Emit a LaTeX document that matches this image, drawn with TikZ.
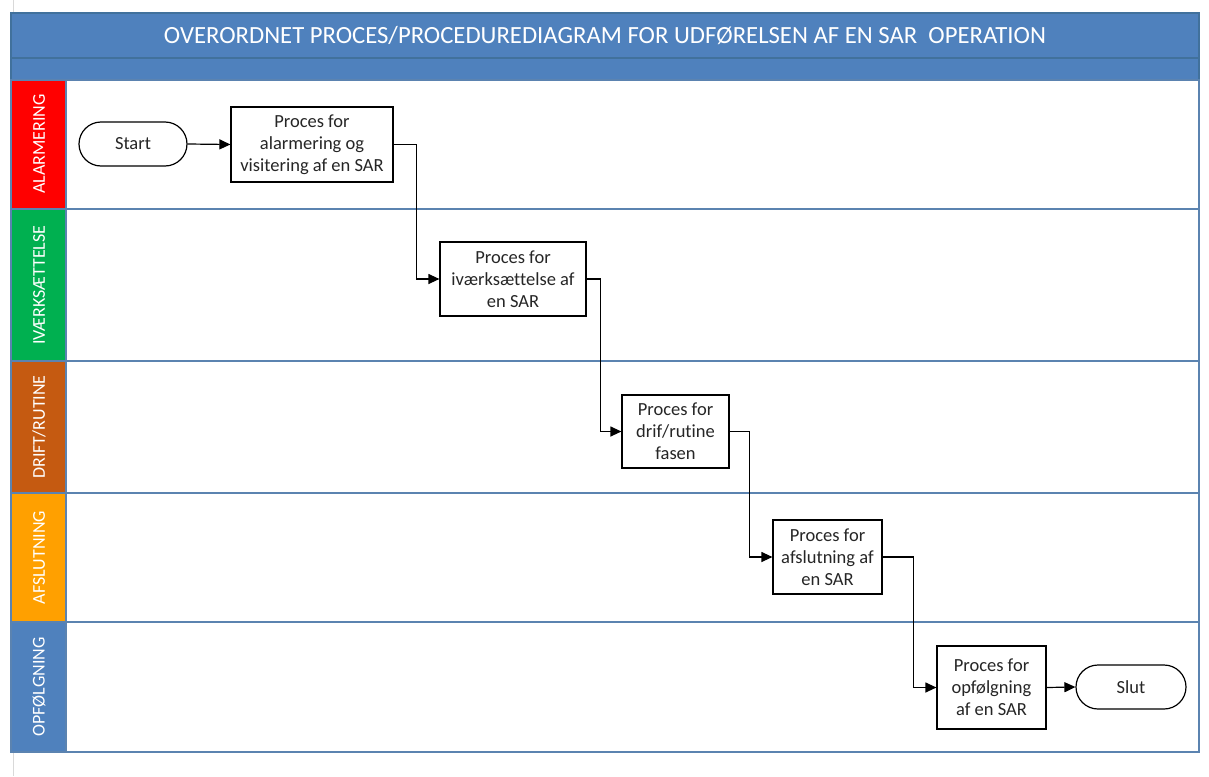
\documentclass[tikz,border=0pt]{standalone}
\usepackage{fontspec}
\setmainfont{Carlito}[Ligatures={NoCommon}]
\usetikzlibrary{arrows.meta,calc}

\definecolor{hdrblue}{HTML}{4F81BD}
\definecolor{hdrline}{HTML}{41719C}
\definecolor{laneline}{HTML}{5B83B0}
\definecolor{lanered}{HTML}{FF0000}
\definecolor{lanegreen}{HTML}{00B050}
\definecolor{lanebrown}{HTML}{C55A11}
\definecolor{laneorange}{HTML}{FFA000}
\definecolor{laneblue}{HTML}{4F81BD}
\definecolor{pageedge}{HTML}{D9D9D9}
\definecolor{boxtext}{HTML}{262626}

\tikzset{
  lanecell/.style={draw=laneline, line width=1.1pt},
  lanelabel/.style={rotate=90, text=white, font=\fontsize{18}{20}\selectfont, inner sep=0pt},
  procbox/.style={draw=black, line width=1.2pt, fill=white, align=center,
    font=\fontsize{18.5}{22}\selectfont, text=boxtext, inner sep=0pt},
  terminal/.style={draw=black, line width=1.2pt, fill=white, rounded corners=22pt,
    minimum width=108pt, minimum height=44pt, font=\fontsize{18.5}{22}\selectfont, text=boxtext},
  flow/.style={draw=black, line width=1.2pt, -{Triangle[length=11pt,width=10pt]}},
}

\begin{document}
\begin{tikzpicture}[x=1pt,y=-1pt]
  \useasboundingbox[fill=white] (0,0) rectangle (1209,776);

  % page edge
  \draw[pageedge, line width=0.8pt] (13.5,0) -- (13.5,776);

  % header bands
  \fill[hdrblue] (11,13) rectangle (1199,80);
  \draw[hdrline, line width=1.1pt] (11,58) -- (1199,58);
  \draw[hdrline, line width=1.1pt] (11,13) rectangle (1199,80);
  \node[text=white, font=\fontsize{24.7}{26}\selectfont] (title) at (605,36)
    {OVERORDNET PROCES/PROCEDUREDIAGRAM FOR UDFØRELSEN AF EN SAR\ \ OPERATION};

  % swimlanes: body and coloured label cell
  \foreach \ya/\yb/\col in {80/209/lanered, 209/361/lanegreen, 361/493/lanebrown,
                            493/622/laneorange, 622/752/laneblue} {
    \draw[lanecell, fill=white] (66,\ya) rectangle (1199,\yb);
    \draw[lanecell, fill=\col] (11,\ya) rectangle (66,\yb);
  }
  \node[lanelabel] (l1) at (39,144) {ALARMERING};
  \node[lanelabel] (l2) at (39,285) {IVÆRKSÆTTELSE};
  \node[lanelabel] (l3) at (39,427) {DRIFT/RUTINE};
  \node[lanelabel] (l4) at (39,557.5) {AFSLUTNING};
  \node[lanelabel] (l5) at (39,687) {OPFØLGNING};

  % process steps
  \node[terminal] (start) at (133,144) {Start};
  \node[procbox, minimum width=162pt, minimum height=75pt] (p1) at (312,144.5)
    {Proces for\\alarmering og\\visitering af en SAR};
  \node[procbox, minimum width=146pt, minimum height=74pt] (p2) at (513,279)
    {Proces for\\iværksættelse af\\en SAR};
  \node[procbox, minimum width=107pt, minimum height=73pt] (p3) at (675.5,431.5)
    {Proces for\\drif/rutine\\fasen};
  \node[procbox, minimum width=109pt, minimum height=74pt] (p4) at (827.5,557)
    {Proces for\\afslutning af\\en SAR};
  \node[procbox, minimum width=109pt, minimum height=83pt] (p5) at (991.5,687.5)
    {Proces for\\opfølgning\\af en SAR};
  \node[terminal, minimum width=110pt] (slut) at (1131,687) {Slut};

  % connectors
  \draw[flow] (start.east) -- (p1.west);
  \draw[flow] (p1.east) -- ++(23,0) |- (p2.west);
  \draw[flow] (p2.east) -- ++(14,0) |- (p3.west);
  \draw[flow] (p3.east) -- ++(20,0) |- (p4.west);
  \draw[flow] (p4.east) -- ++(31,0) |- (p5.west);
  \draw[flow] (p5.east) -- (slut.west);
\end{tikzpicture}
\end{document}
